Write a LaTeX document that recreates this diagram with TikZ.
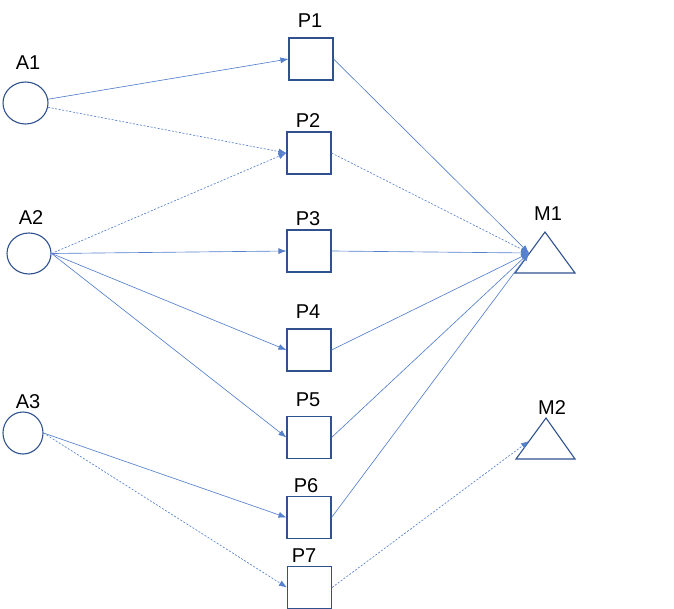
\documentclass[tikz,border=0pt]{standalone}
\usepackage{fontspec}
\setmainfont{Liberation Sans}
\usetikzlibrary{arrows.meta,shapes.geometric}
\definecolor{boxc}{HTML}{2F528F}
\definecolor{linec}{HTML}{5580CC}
\tikzset{
  src/.style={ellipse,draw=boxc,line width=1.1pt,inner sep=0pt},
  pbox/.style={rectangle,draw=boxc,line width=1.1pt,inner sep=0pt,minimum width=44pt,minimum height=42pt},
  lbl/.style={anchor=base,inner sep=0pt,font=\fontsize{20pt}{23pt}\selectfont},
  tri/.style={draw=boxc,line width=1.1pt,line join=miter},
  conn/.style={draw=linec,line width=0.65pt,-{Latex[length=8pt,width=6pt]}},
  dsh/.style={dash pattern=on 2pt off 1.6pt}
}
\begin{document}
\begin{tikzpicture}[x=1pt,y=-1pt]
\useasboundingbox (0,0) rectangle (674,609);
% sources
\node[src,minimum width=45pt,minimum height=42pt] (A1) at (25.5,103) {};
\node[src,minimum width=44pt,minimum height=41pt] (A2) at (29,253.5) {};
\node[src,minimum width=40pt,minimum height=42pt] (A3) at (23,433) {};
\node[lbl] (lA1) at (28,70) {A1};
\node[lbl] (lA2) at (31,225) {A2};
\node[lbl] (lA3) at (28,408) {A3};
% process boxes
\node[pbox] (P1) at (311,59) {};
\node[pbox] (P2) at (309,153) {};
\node[pbox] (P3) at (309,251) {};
\node[pbox] (P4) at (309,350) {};
\node[pbox] (P5) at (309,437.5) {};
\node[pbox] (P6) at (309,517.5) {};
\node[pbox] (P7) at (309.5,587.5) {};
\node[lbl] (lP1) at (310,28) {P1};
\node[lbl] (lP2) at (308,128) {P2};
\node[lbl] (lP3) at (308,226) {P3};
\node[lbl] (lP4) at (308,319) {P4};
\node[lbl] (lP5) at (308,406) {P5};
\node[lbl] (lP6) at (306,492) {P6};
\node[lbl] (lP7) at (304,562) {P7};
% machines
\draw[tri] (515,273) -- (545,232) -- (575,273) -- cycle;
\draw[tri] (516,459) -- (546,418) -- (575,459) -- cycle;
\coordinate (M1) at (529,253);
\coordinate (M2) at (529,441);
\node[lbl] (lM1) at (548,221) {M1};
\node[lbl] (lM2) at (552,414) {M2};
% connectors A -> P
\draw[conn] (A1) -- (P1.west);
\draw[conn,dsh] (A1) -- (P2.west);
\draw[conn,dsh] (A2.east) -- (P2.west);
\draw[conn] (A2.east) -- (P3.west);
\draw[conn] (A2.east) -- (P4.west);
\draw[conn] (A2.east) -- (P5.west);
\draw[conn] (A3.east) -- (P6.west);
\draw[conn,dsh] (A3.east) -- (P7.west);
% connectors P -> M
\draw[conn] (P1.east) -- (M1);
\draw[conn,dsh] (P2.east) -- (M1);
\draw[conn] (P3.east) -- (M1);
\draw[conn] (P4.east) -- (M1);
\draw[conn] (P5.east) -- (M1);
\draw[conn] (P6.east) -- (M1);
\draw[conn,dsh] (P7.east) -- (M2);
\end{tikzpicture}
\end{document}
